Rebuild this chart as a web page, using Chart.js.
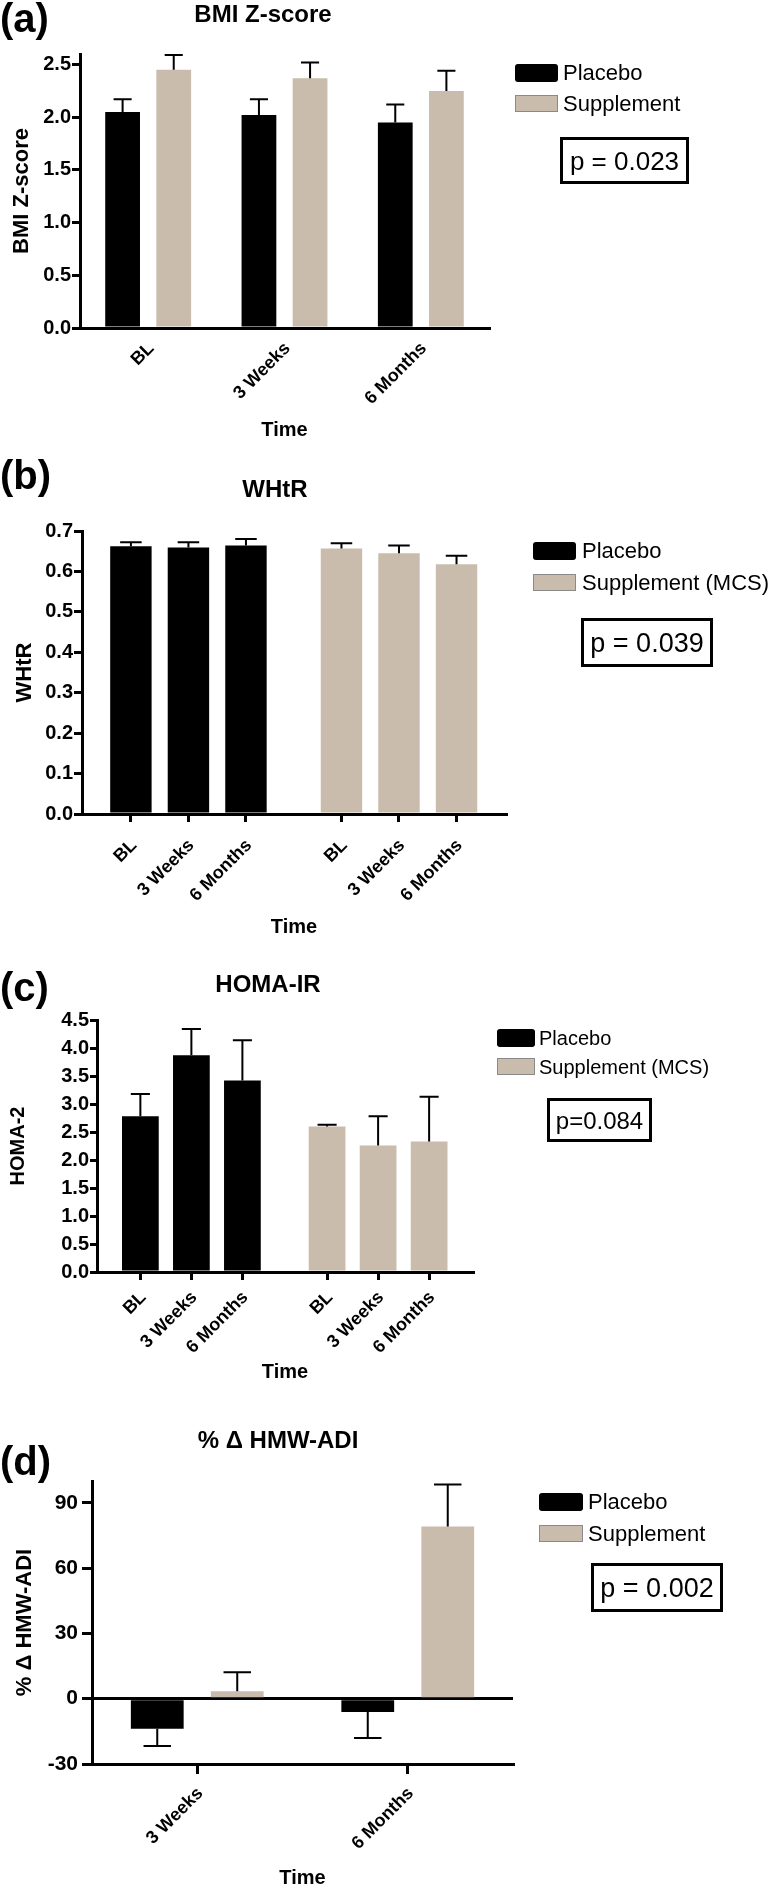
<!DOCTYPE html>
<html>
<head>
<meta charset="utf-8">
<title>BMI Z-score, WHtR, HOMA-IR, % change HMW-ADI</title>
<script src="https://cdn.jsdelivr.net/npm/chart.js@4.4.1/dist/chart.umd.min.js"></script>
<style>
  html, body { margin: 0; padding: 0; background: #fff; }
  #page { position: relative; width: 773px; height: 1888px; }
  #page canvas { position: absolute; left: 0; top: 0; }
</style>
</head>
<body>
<div id="page">
  <canvas id="bmiChart" width="773" height="1888"></canvas>
  <canvas id="whtrChart" width="773" height="1888"></canvas>
  <canvas id="homaChart" width="773" height="1888"></canvas>
  <canvas id="adiChart" width="773" height="1888"></canvas>
</div>
<script>
const FONT = "'Liberation Sans', Arial, Helvetica, sans-serif";
const PLACEBO_COLOR = '#000000';
const SUPPLEMENT_COLOR = '#c9bcac';

// categories
const timePoints = ['BL', '3 Weeks', '6 Months'];
const changePoints = ['3 Weeks', '6 Months'];

// (a) BMI Z-score, mean and upper SEM
const bmiPlacebo = [2.05, 2.02, 1.95];
const bmiPlaceboErr = [0.12, 0.15, 0.17];
const bmiSupplement = [2.45, 2.37, 2.25];
const bmiSupplementErr = [0.14, 0.15, 0.19];
const bmiTicks = [0, 0.5, 1.0, 1.5, 2.0, 2.5];
const bmiP = 'p = 0.023';

// (b) WHtR
const whtrPlacebo = [0.662, 0.659, 0.664];
const whtrPlaceboErr = [0.010, 0.013, 0.016];
const whtrSupplement = [0.657, 0.645, 0.618];
const whtrSupplementErr = [0.013, 0.019, 0.021];
const whtrTicks = [0, 0.1, 0.2, 0.3, 0.4, 0.5, 0.6, 0.7];
const whtrP = 'p = 0.039';

// (c) HOMA-IR
const homaPlacebo = [2.78, 3.87, 3.42];
const homaPlaceboErr = [0.40, 0.47, 0.72];
const homaSupplement = [2.60, 2.26, 2.33];
const homaSupplementErr = [0.03, 0.52, 0.80];
const homaTicks = [0, 0.5, 1.0, 1.5, 2.0, 2.5, 3.0, 3.5, 4.0, 4.5];
const homaP = 'p=0.084';

// (d) % change HMW-ADI
const adiPlacebo = [-13.8, -6.1];
const adiPlaceboErr = [7.9, 12.0];
const adiSupplement = [3.4, 79.1];
const adiSupplementErr = [8.8, 19.3];
const adiTicks = [-30, 0, 30, 60, 90];
const adiP = 'p = 0.002';

// space between the placebo block and the supplement block in (b) and (c)
const GROUP_GAP = 0.66;

Chart.defaults.font.family = FONT;
Chart.defaults.color = '#000';
Chart.defaults.animation = false;
Chart.defaults.plugins.legend.display = false;
Chart.defaults.plugins.tooltip.enabled = false;

function whenDocumentLoaded(action) {
    if (document.readyState === "loading") {
        document.addEventListener("DOMContentLoaded", action);
    } else {
        action();
    }
}

// upper (or lower, for negative bars) SEM whisker
const errorBars = {
    id: 'errorBars',
    afterDatasetsDraw(chart) {
        const ctx = chart.ctx;
        const yScale = chart.scales.y;
        ctx.save();
        ctx.strokeStyle = '#000';
        ctx.lineWidth = 2;
        chart.data.datasets.forEach((ds, i) => {
            const meta = chart.getDatasetMeta(i);
            meta.data.forEach((bar, j) => {
                const value = meta.controller.getParsed(j).y;
                const err = ds.errors[j];
                const tip = yScale.getPixelForValue(value >= 0 ? value + err : value - err);
                const half = bar.width * 0.26;
                ctx.beginPath();
                ctx.moveTo(bar.x, bar.y);
                ctx.lineTo(bar.x, tip);
                ctx.moveTo(bar.x - half, tip);
                ctx.lineTo(bar.x + half, tip);
                ctx.stroke();
            });
        });
        ctx.restore();
    }
};

// panel letter, title, legend and p-value box
const panelDecor = {
    id: 'panelDecor',
    afterDraw(chart, args, o) {
        const ctx = chart.ctx;
        ctx.save();
        ctx.fillStyle = '#000';
        ctx.textBaseline = 'alphabetic';

        ctx.textAlign = 'left';
        ctx.font = 'bold 40px ' + FONT;
        ctx.fillText(o.letter, 0, o.letterY);

        ctx.textAlign = 'center';
        ctx.font = 'bold 24px ' + FONT;
        ctx.fillText(o.title, o.titleX, o.titleY);

        // legend
        ctx.textAlign = 'left';
        ctx.font = o.legendSize + 'px ' + FONT;
        chart.data.datasets.forEach((ds, i) => {
            const base = o.legendBase[i];
            const top = base - 16;
            if (ds.backgroundColor === PLACEBO_COLOR) {
                ctx.fillStyle = PLACEBO_COLOR;
                ctx.beginPath();
                ctx.roundRect(o.legendX, top, o.boxW, 18, 3);
                ctx.fill();
            } else {
                ctx.fillStyle = ds.backgroundColor;
                ctx.fillRect(o.legendX, top, o.boxW, 17);
                ctx.strokeStyle = '#8a8a8a';
                ctx.lineWidth = 1;
                ctx.strokeRect(o.legendX + 0.5, top + 0.5, o.boxW - 1, 16);
            }
            ctx.fillStyle = '#000';
            ctx.fillText(ds.label, o.legendX + o.boxW + o.textGap, base);
        });

        // p-value box
        const [x1, y1, x2, y2] = o.pBox;
        ctx.strokeStyle = '#000';
        ctx.lineWidth = 3;
        ctx.strokeRect(x1 + 1.5, y1 + 1.5, x2 - x1 - 3, y2 - y1 - 3);
        ctx.textAlign = 'center';
        ctx.font = o.pSize + 'px ' + FONT;
        ctx.fillText(o.pText, (x1 + x2) / 2, o.pBase);
        ctx.restore();
    }
};

function valueAxis(ticks, decimals, title, o) {
    return {
        type: 'linear',
        min: o.min,
        max: o.max,
        afterBuildTicks: (scale) => { scale.ticks = ticks.map(v => ({ value: v })); },
        afterFit: (scale) => { scale.width = o.width; },
        border: { display: true, color: '#000', width: 3 },
        grid: {
            display: true,
            drawOnChartArea: !!o.zeroLine,
            color: (c) => (!o.zeroLine || (c.tick && c.tick.value === 0)) ? '#000' : 'rgba(0,0,0,0)',
            lineWidth: 3,
            tickColor: '#000',
            tickWidth: 3,
            tickLength: o.tickLength
        },
        ticks: {
            padding: o.labelPad,
            color: '#000',
            font: { size: o.tickSize || 20, weight: 'bold' },
            callback: (v) => Number(v).toFixed(decimals)
        },
        title: {
            display: true,
            text: title,
            color: '#000',
            font: { size: o.titleSize, weight: 'bold', lineHeight: 1 },
            padding: { top: o.titlePad, bottom: 0 }
        }
    };
}

function timeAxis(o) {
    const axis = {
        type: o.positions ? 'linear' : 'category',
        afterFit: (scale) => { scale.height = o.height; },
        border: { display: true, color: '#000', width: 3 },
        grid: {
            display: !!o.tickLength,
            drawTicks: !!o.tickLength,
            drawOnChartArea: false,
            offset: false,
            color: '#000',
            lineWidth: 3,
            tickLength: o.tickLength || 0
        },
        ticks: {
            autoSkip: false,
            minRotation: 45,
            maxRotation: 45,
            padding: o.labelPad,
            labelOffset: 3,
            color: '#000',
            font: { size: 18, weight: 'bold' }
        },
        title: {
            display: true,
            text: 'Time',
            color: '#000',
            font: { size: 20, weight: 'bold', lineHeight: 1 },
            padding: 0
        }
    };
    if (o.positions) {
        // numeric axis so the two treatment blocks can be spaced apart
        axis.offset = false;
        axis.min = o.min;
        axis.max = o.max;
        axis.afterBuildTicks = (scale) => { scale.ticks = o.positions.map(v => ({ value: v })); };
        axis.ticks.callback = (v, i) => o.labels[i];
    } else {
        axis.offset = true;
    }
    return axis;
}

// chart area in page coordinates -> layout padding of a full-page canvas
function areaPadding(left, top, right, axisBottom) {
    return { left: 0, top: top, right: 773 - right, bottom: 1888 - axisBottom };
}

function groupedChart(id, labels, series, yCfg, xCfg, pad, decor, bars) {
    return new Chart(document.getElementById(id), {
        type: 'bar',
        data: {
            labels: labels,
            datasets: series.map(s => ({
                label: s.label,
                data: s.data,
                errors: s.errors,
                backgroundColor: s.color,
                borderWidth: 0,
                grouped: bars.grouped,
                categoryPercentage: bars.cat,
                barPercentage: bars.bar
            }))
        },
        options: {
            responsive: false,
            layout: { padding: pad },
            scales: { x: xCfg, y: yCfg },
            plugins: { panelDecor: decor }
        },
        plugins: [errorBars, panelDecor]
    });
}

whenDocumentLoaded(() => {
    // (a) BMI Z-score
    groupedChart('bmiChart', timePoints, [
        { label: 'Placebo', data: bmiPlacebo, errors: bmiPlaceboErr, color: PLACEBO_COLOR },
        { label: 'Supplement', data: bmiSupplement, errors: bmiSupplementErr, color: SUPPLEMENT_COLOR }
    ],
    valueAxis(bmiTicks, 1, 'BMI Z-score', { min: 0, max: 2.6, width: 80, tickLength: 8, labelPad: 1, titleSize: 22, titlePad: 11 }),
    timeAxis({ height: 112, labelPad: 10 }),
    areaPadding(80, 54, 489, 440),
    { letter: '(a)', letterY: 32, title: 'BMI Z-score', titleX: 263, titleY: 22,
      legendX: 515, legendBase: [80, 111], legendSize: 22, boxW: 43, textGap: 5,
      pBox: [560, 137, 689, 184], pText: bmiP, pSize: 26, pBase: 170 },
    { grouped: true, cat: 0.75, bar: 0.68 });

    // (b) WHtR, placebo block then supplement block
    const whtrPlaceboX = timePoints.map((t, i) => i + 1);
    const whtrSupplementX = timePoints.map((t, i) => i + 1 + timePoints.length + GROUP_GAP);
    groupedChart('whtrChart', undefined, [
        { label: 'Placebo', data: whtrPlacebo.map((v, i) => ({ x: whtrPlaceboX[i], y: v })), errors: whtrPlaceboErr, color: PLACEBO_COLOR },
        { label: 'Supplement (MCS)', data: whtrSupplement.map((v, i) => ({ x: whtrSupplementX[i], y: v })), errors: whtrSupplementErr, color: SUPPLEMENT_COLOR }
    ],
    valueAxis(whtrTicks, 1, 'WHtR', { min: 0, max: 0.7, width: 82, tickLength: 8, labelPad: 1, titleSize: 22, titlePad: 14 }),
    timeAxis({ height: 123, labelPad: 13, tickLength: 8, positions: whtrPlaceboX.concat(whtrSupplementX),
               labels: timePoints.concat(timePoints), min: 0.15, max: 7.52 }),
    areaPadding(82, 531, 506, 937),
    { letter: '(b)', letterY: 489, title: 'WHtR', titleX: 275, titleY: 497,
      legendX: 533, legendBase: [558, 590], legendSize: 22, boxW: 43, textGap: 6,
      pBox: [581, 618, 713, 667], pText: whtrP, pSize: 27, pBase: 652 },
    { grouped: false, cat: 1, bar: 0.72 });

    // (c) HOMA-IR
    const homaPlaceboX = timePoints.map((t, i) => i + 1);
    const homaSupplementX = timePoints.map((t, i) => i + 1 + timePoints.length + GROUP_GAP);
    groupedChart('homaChart', undefined, [
        { label: 'Placebo', data: homaPlacebo.map((v, i) => ({ x: homaPlaceboX[i], y: v })), errors: homaPlaceboErr, color: PLACEBO_COLOR },
        { label: 'Supplement (MCS)', data: homaSupplement.map((v, i) => ({ x: homaSupplementX[i], y: v })), errors: homaSupplementErr, color: SUPPLEMENT_COLOR }
    ],
    valueAxis(homaTicks, 1, 'HOMA-2', { min: 0, max: 4.5, width: 97, tickLength: 7, labelPad: 1, titleSize: 20, titlePad: 8 }),
    timeAxis({ height: 110, labelPad: 7, tickLength: 8, positions: homaPlaceboX.concat(homaSupplementX),
               labels: timePoints.concat(timePoints), min: 0.15, max: 7.52 }),
    areaPadding(97, 1020, 473, 1382),
    { letter: '(c)', letterY: 1001, title: 'HOMA-IR', titleX: 268, titleY: 992,
      legendX: 497, legendBase: [1045, 1074], legendSize: 20, boxW: 38, textGap: 4,
      pBox: [547, 1098, 652, 1142], pText: homaP, pSize: 24, pBase: 1129 },
    { grouped: false, cat: 1, bar: 0.72 });

    // (d) % change HMW-ADI
    groupedChart('adiChart', changePoints, [
        { label: 'Placebo', data: adiPlacebo, errors: adiPlaceboErr, color: PLACEBO_COLOR },
        { label: 'Supplement', data: adiSupplement, errors: adiSupplementErr, color: SUPPLEMENT_COLOR }
    ],
    valueAxis(adiTicks, 0, '% \u0394 HMW-ADI', { min: -30, max: 100, width: 92, tickLength: 10, labelPad: 4, titleSize: 22, titlePad: 14, tickSize: 21, zeroLine: true }),
    timeAxis({ height: 124, labelPad: 9, tickLength: 10 }),
    areaPadding(92, 1481, 513, 1888),
    { letter: '(d)', letterY: 1475, title: '% \u0394 HMW-ADI', titleX: 278, titleY: 1448,
      legendX: 539, legendBase: [1509, 1541], legendSize: 22, boxW: 44, textGap: 5,
      pBox: [591, 1563, 723, 1612], pText: adiP, pSize: 27, pBase: 1597 },
    { grouped: true, cat: 0.76, bar: 0.66 });
});
</script>
</body>
</html>
